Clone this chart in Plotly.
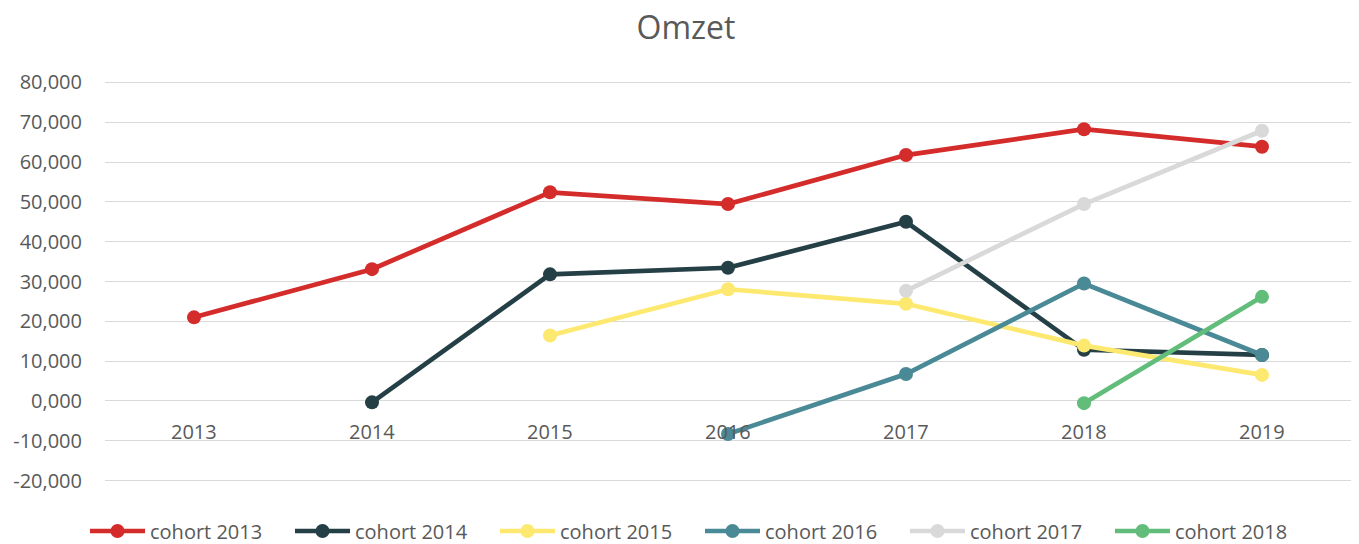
import plotly.graph_objects as go

categories = ["2013", "2014", "2015", "2016", "2017", "2018", "2019"]

cohort_2013 = [21000, 33100, 52400, 49450, 61750, 68250, 63850]
cohort_2014 = [None, -350, 31800, 33450, 45000, 12850, 11550]
cohort_2015 = [None, None, 16450, 28050, 24400, 13900, 6550]
cohort_2016 = [None, None, None, -8300, 6780, 29500, 11550]
cohort_2017 = [None, None, None, None, 27650, 49450, 67850]
cohort_2018 = [None, None, None, None, None, -550, 26150]

series_names = ["cohort 2013", "cohort 2014", "cohort 2015", "cohort 2016", "cohort 2017", "cohort 2018"]
series_values = [cohort_2013, cohort_2014, cohort_2015, cohort_2016, cohort_2017, cohort_2018]
colors = ["#D42C2B", "#243F46", "#FDE970", "#4A8996", "#D9D9D9", "#62BD7B"]

y_tickvals = [80000, 70000, 60000, 50000, 40000, 30000, 20000, 10000, 0, -10000, -20000]
y_ticktext = ["80,000", "70,000", "60,000", "50,000", "40,000", "30,000", "20,000", "10,000", "0,000", "-10,000", "-20,000"]

FONT = "Open Sans"
GRAY = "#595959"

# page body has an 8px margin, so the figure is sized/offset to compensate
W, H = 1351, 536

fig = go.Figure()
for name, vals, col in zip(series_names, series_values, colors):
    fig.add_trace(go.Scatter(
        x=list(range(len(categories))), y=vals, name=name, mode="lines+markers",
        line=dict(color=col, width=4.7),
        marker=dict(color=col, size=14),
        connectgaps=False,
    ))

annotations = [
    dict(x=i, y=0, xref="x", yref="y", text=c, showarrow=False, yshift=-31,
         font=dict(family=FONT, size=20, color=GRAY))
    for i, c in enumerate(categories)
]

fig.update_layout(
    width=W, height=H,
    margin=dict(l=97, r=8, t=72, b=61, autoexpand=False),
    paper_bgcolor="white", plot_bgcolor="white",
    title=dict(text="Omzet", x=678 / W, xref="container", xanchor="center",
               y=1 - 20 / H, yref="container", yanchor="middle",
               font=dict(family=FONT, size=32, color=GRAY)),
    xaxis=dict(range=[-0.5, 6.5], showticklabels=False, showgrid=False,
               zeroline=False, showline=False, ticks=""),
    yaxis=dict(range=[-20600, 80600], tickvals=y_tickvals, ticktext=y_ticktext,
               showgrid=True, gridcolor="#D9D9D9", gridwidth=1.4,
               zeroline=False, showline=False, ticks="",
               ticklabelstandoff=22,
               tickfont=dict(family=FONT, size=20, color=GRAY)),
    showlegend=True,
    legend=dict(orientation="h", xref="container", yref="container",
                x=692 / W, xanchor="center", y=13 / H, yanchor="middle",
                font=dict(family=FONT, size=20, color=GRAY),
                itemwidth=55, entrywidth=135, tracegroupgap=0),
    annotations=annotations,
)

fig.write_html("out.html")
